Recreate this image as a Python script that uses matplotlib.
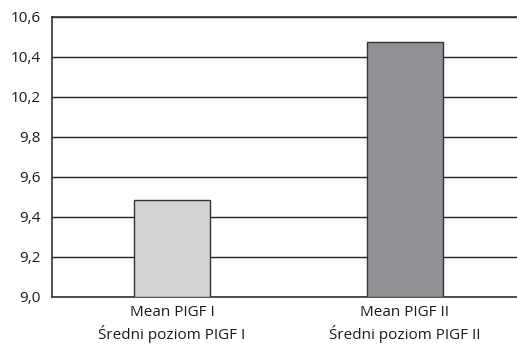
import numpy as np
import matplotlib.pyplot as plt

plt.rcParams['font.family'] = ['Open Sans', 'DejaVu Sans']

categories = ['Mean PIGF I\nŚredni poziom PIGF I', 'Mean PIGF II\nŚredni poziom PIGF II']
values = [9.485, 10.475]
colors = ['#d3d3d5', '#909194']
# axis labels as printed (10,0 is not on the axis)
tick_values = [9.0, 9.2, 9.4, 9.6, 9.8, 10.2, 10.4, 10.6]
tick_labels = ['9,0', '9,2', '9,4', '9,6', '9,8', '10,2', '10,4', '10,6']

idx = np.arange(len(tick_values))


def fwd(v):
    return np.interp(v, tick_values, idx)


def inv(p):
    return np.interp(p, idx, tick_values)


fig = plt.figure(figsize=(5.17, 3.47), dpi=100)
ax = fig.add_axes([52 / 517, 1 - 297 / 347, 466 / 517, 280 / 347])
ax.set_yscale('function', functions=(fwd, inv))

base = tick_values[0]
x = np.arange(len(categories))
ax.bar(x, [v - base for v in values], bottom=base, width=0.326,
       color=colors, edgecolor='#333333', linewidth=1, zorder=3)

ax.set_ylim(tick_values[0], tick_values[-1])
ax.set_xlim(-0.515, 1.485)
ax.set_yticks(tick_values)
ax.set_yticklabels(tick_labels)
ax.minorticks_off()
ax.set_xticks(x)
ax.set_xticklabels(categories, linespacing=1.35)
ax.tick_params(length=0, labelsize=11, colors='#1a1a1a', pad=6)
ax.tick_params(axis='y', pad=8)
ax.yaxis.grid(True, color='#222222', linewidth=1)
ax.set_axisbelow(True)

for s in ['left', 'bottom', 'top']:
    ax.spines[s].set_color('#333333')
    ax.spines[s].set_linewidth(1.2)
ax.spines['right'].set_visible(False)

fig.savefig('out.png', dpi=100)
